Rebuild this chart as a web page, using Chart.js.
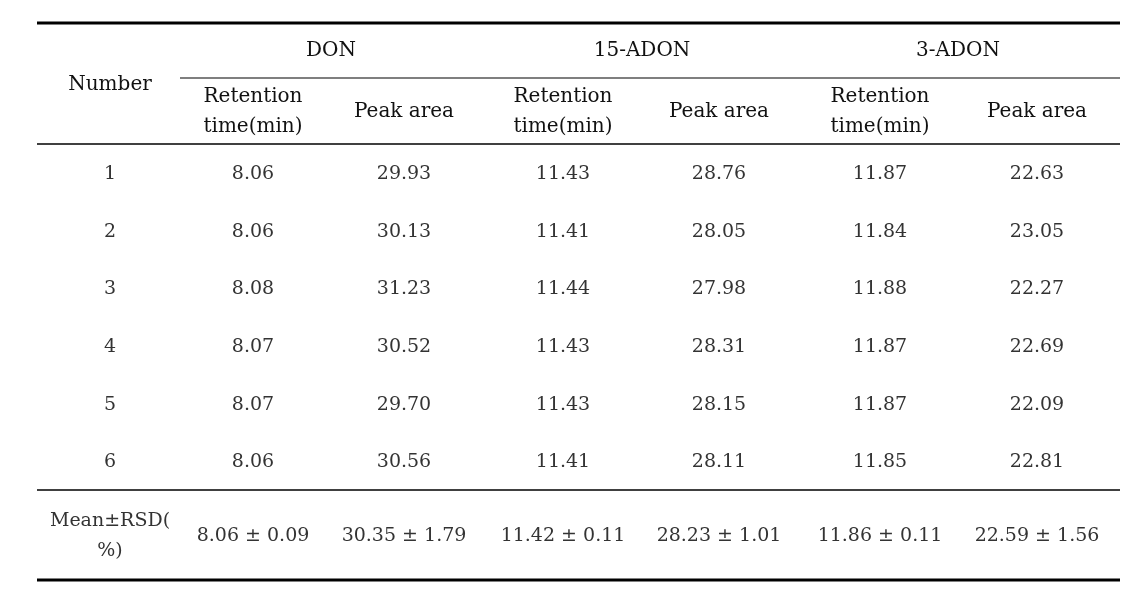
<!DOCTYPE html>
<html>
<head>
<meta charset="utf-8">
<script src="https://cdn.jsdelivr.net/npm/chart.js@4"></script>
<style>
  html, body { margin: 0; padding: 0; background: #fff; }
  #wrap { position: relative; width: 1143px; height: 603px; }
</style>
</head>
<body>
<div id="wrap"><canvas id="tableChart"></canvas></div>
<script>
// table content
const groups = ["DON", "15-ADON", "3-ADON"];
const subHeaders = ["Retention\ntime(min)", "Peak area"];
const rowLabels = ["1", "2", "3", "4", "5", "6"];
const donRt = ["8.06", "8.06", "8.08", "8.07", "8.07", "8.06"];
const donArea = ["29.93", "30.13", "31.23", "30.52", "29.70", "30.56"];
const adon15Rt = ["11.43", "11.41", "11.44", "11.43", "11.43", "11.41"];
const adon15Area = ["28.76", "28.05", "27.98", "28.31", "28.15", "28.11"];
const adon3Rt = ["11.87", "11.84", "11.88", "11.87", "11.87", "11.85"];
const adon3Area = ["22.63", "23.05", "22.27", "22.69", "22.09", "22.81"];
const meanLabel = "Mean±RSD(\n%)";
const meanRsd = ["8.06 ± 0.09", "30.35 ± 1.79", "11.42 ± 0.11", "28.23 ± 1.01", "11.86 ± 0.11", "22.59 ± 1.56"];

// layout (in the 1143 x 603 value space of the scales)
const colX = [110, 253, 404, 563, 719, 880, 1037];
const groupX = [331, 642, 958];
const rowY = [174, 232, 289, 347, 405, 462];
const groupY = 51, subY = 112, numberY = 85, meanY = 536;
const tableLeft = 37, tableRight = 1120, subLeft = 180;

const valueCols = [donRt, donArea, adon15Rt, adon15Area, adon3Rt, adon3Area];

// cell anchors: one point per text cell
const cells = [];
cells.push({ x: colX[0], y: numberY, text: "Number", font: 20, color: "#111" });
groups.forEach((g, i) => cells.push({ x: groupX[i], y: groupY, text: g, font: 20, color: "#111" }));
for (let i = 0; i < 6; i++) {
  cells.push({ x: colX[i + 1], y: subY, text: subHeaders[i % 2], font: 20, color: "#111" });
}
rowLabels.forEach((r, j) => {
  cells.push({ x: colX[0], y: rowY[j], text: r, font: 19, color: "#333" });
  valueCols.forEach((col, i) => cells.push({ x: colX[i + 1], y: rowY[j], text: col[j], font: 19, color: "#333" }));
});
cells.push({ x: colX[0], y: meanY, text: meanLabel, font: 19, color: "#333" });
meanRsd.forEach((m, i) => cells.push({ x: colX[i + 1], y: meanY, text: m, font: 19, color: "#333" }));

const rule = (x1, x2, y, w) => ({
  type: "line",
  data: [{ x: x1, y: y }, { x: x2, y: y }],
  borderColor: "#000",
  borderWidth: w,
  pointRadius: 0,
  showLine: true,
});

const cellText = {
  id: "cellText",
  afterDatasetsDraw(chart) {
    const ctx = chart.ctx;
    const dsIndex = chart.data.datasets.length - 1;
    const meta = chart.getDatasetMeta(dsIndex);
    ctx.save();
    ctx.textAlign = "center";
    ctx.textBaseline = "middle";
    meta.data.forEach((el, k) => {
      const c = cells[k];
      ctx.fillStyle = c.color;
      ctx.font = c.font + 'px "DejaVu Serif", "Liberation Serif", serif';
      const lines = c.text.split("\n");
      const lh = 30;
      lines.forEach((ln, n) => {
        ctx.fillText(ln, el.x, el.y + (n - (lines.length - 1) / 2) * lh);
      });
    });
    ctx.restore();
  },
};

new Chart(document.getElementById("tableChart").getContext("2d"), {
  type: "scatter",
  data: {
    datasets: [
      rule(tableLeft, tableRight, 23, 3),
      rule(subLeft, tableRight, 78, 1.2),
      rule(tableLeft, tableRight, 144, 1.5),
      rule(tableLeft, tableRight, 490, 1.5),
      rule(tableLeft, tableRight, 580, 3),
      { data: cells.map(c => ({ x: c.x, y: c.y })), pointRadius: 0 },
    ],
  },
  options: {
    responsive: true,
    maintainAspectRatio: false,
    animation: false,
    layout: { padding: 0 },
    plugins: { legend: { display: false }, tooltip: { enabled: false } },
    scales: {
      x: { type: "linear", min: 0, max: 1143, display: false },
      y: { type: "linear", min: 0, max: 603, reverse: true, display: false },
    },
  },
  plugins: [cellText],
});
</script>
</body>
</html>
